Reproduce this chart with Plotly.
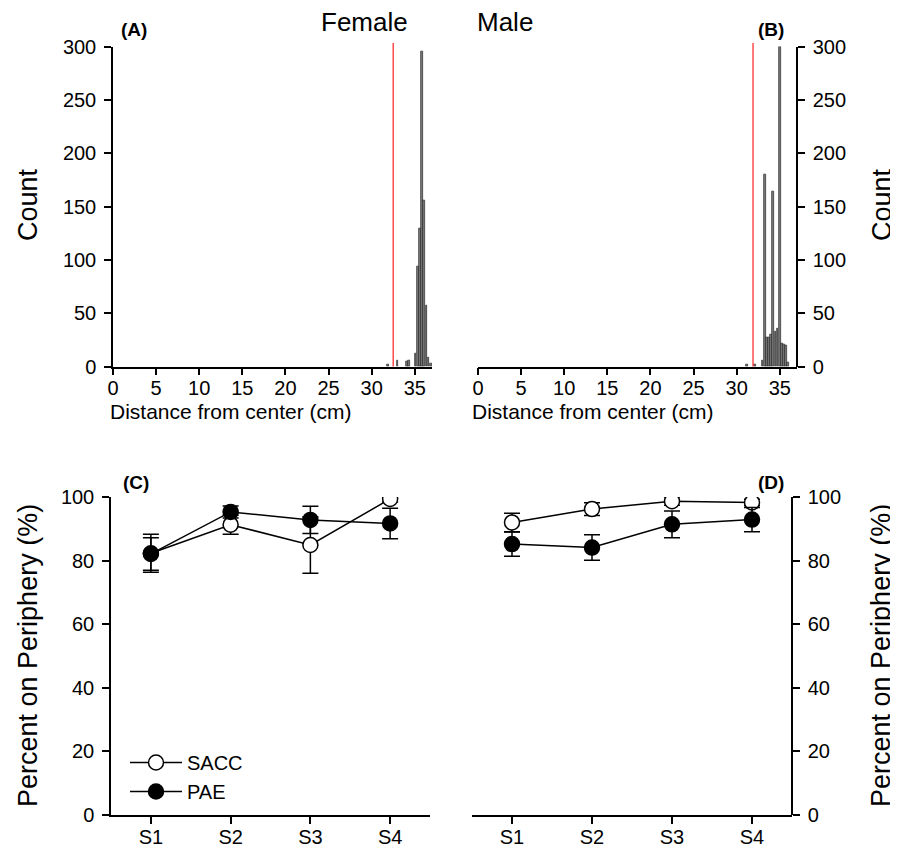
import plotly.graph_objects as go

# ---------------- data ----------------
female_bins = [31.9, 33.0, 34.1, 34.35, 35.1, 35.35, 35.6, 35.85, 36.1, 36.35, 36.6, 36.85]
female_counts = [2, 6, 5, 6, 12, 94, 129, 295, 156, 57, 8, 3]
female_cutoff = 32.5

male_bins = [31.2, 32.1, 33.0, 33.25, 33.5, 33.75, 34.0, 34.25, 34.5, 34.75, 35.0, 35.25, 35.5, 35.75, 35.95]
male_counts = [2, 2, 6, 180, 27, 27, 30, 164, 33, 36, 300, 22, 21, 20, 4]
male_cutoff = 31.9

sessions = ["S1", "S2", "S3", "S4"]
female_sacc = [82.3, 91.3, 84.9, 99.4]
female_sacc_err = [6.0, 3.0, 8.9, 1.0]
female_pae = [82.1, 95.3, 92.8, 91.7]
female_pae_err = [5.1, 1.9, 4.3, 4.8]
male_sacc = [92.0, 96.2, 98.7, 98.3]
male_sacc_err = [2.9, 2.0, 1.3, 1.0]
male_pae = [85.2, 84.1, 91.4, 92.9]
male_pae_err = [3.8, 4.0, 4.2, 3.8]

hist_xticks = [0, 5, 10, 15, 20, 25, 30, 35]
hist_yticks = [0, 50, 100, 150, 200, 250, 300]
pct_yticks = [0, 20, 40, 60, 80, 100]

# ---------------- layout helpers ----------------
# page body has an 8px margin, so the figure starts at (8, 8) of the window
OFF = 8
W, H = 898 - OFF, 856 - OFF
FONT = "Arial, Liberation Sans, Helvetica, sans-serif"


def px(x):
    return (x - OFF) / W


def py(y):
    return 1 - (y - OFF) / H


dom_A = [px(113), px(432)]
dom_B = [px(478), px(797)]
dom_C = [px(111), px(430)]
dom_D = [px(472), px(792)]
dom_top = [py(366.5), py(46.5)]
dom_bot = [py(815), py(497)]
HIST_XR = [0, 37]

fig = go.Figure()

bar_style = dict(marker=dict(color="#7a7a7a", line=dict(color="#2a2a2a", width=0.7)),
                 width=0.2, showlegend=False)
fig.add_trace(go.Bar(x=female_bins, y=female_counts, xaxis="x", yaxis="y", **bar_style))
fig.add_trace(go.Bar(x=male_bins, y=male_counts, xaxis="x2", yaxis="y2", **bar_style))

ERR = dict(type="data", visible=True, color="black", thickness=1.5, width=8)
LINE = dict(color="black", width=1.5)
open_m = dict(symbol="circle", size=15, color="white", line=dict(color="black", width=1.5))
fill_m = dict(symbol="circle", size=15, color="black", line=dict(color="black", width=1.5))

fig.add_trace(go.Scatter(x=sessions, y=female_sacc, error_y=dict(array=female_sacc_err, **ERR),
                         mode="lines+markers", line=LINE, marker=open_m, name="SACC",
                         xaxis="x3", yaxis="y3", showlegend=True))
fig.add_trace(go.Scatter(x=sessions, y=female_pae, error_y=dict(array=female_pae_err, **ERR),
                         mode="lines+markers", line=LINE, marker=fill_m, name="PAE",
                         xaxis="x3", yaxis="y3", showlegend=True))
fig.add_trace(go.Scatter(x=sessions, y=male_sacc, error_y=dict(array=male_sacc_err, **ERR),
                         mode="lines+markers", line=LINE, marker=open_m, name="SACC",
                         xaxis="x4", yaxis="y4", showlegend=False))
fig.add_trace(go.Scatter(x=sessions, y=male_pae, error_y=dict(array=male_pae_err, **ERR),
                         mode="lines+markers", line=LINE, marker=fill_m, name="PAE",
                         xaxis="x4", yaxis="y4", showlegend=False))

axis_common = dict(showline=True, linecolor="black", linewidth=1.5, ticks="outside",
                   ticklen=7, tickwidth=1.5, tickcolor="black", showgrid=False,
                   zeroline=False, automargin=False,
                   tickfont=dict(size=20, color="black", family=FONT))
xax = dict(ticklabelstandoff=-4, **axis_common)
yax = dict(ticklabelstandoff=4, **axis_common)

fig.update_layout(
    template="none",
    width=W, height=H, margin=dict(l=0, r=0, t=0, b=0, pad=0), autosize=False,
    paper_bgcolor="white", plot_bgcolor="white",
    font=dict(family=FONT, color="black"),
    bargap=0,
    xaxis=dict(domain=dom_A, anchor="y", range=HIST_XR, tickvals=hist_xticks, **xax),
    yaxis=dict(domain=dom_top, anchor="x", range=[0, 300], tickvals=hist_yticks, **yax),
    xaxis2=dict(domain=dom_B, anchor="y2", range=HIST_XR, tickvals=hist_xticks, **xax),
    yaxis2=dict(domain=dom_top, anchor="free", position=dom_B[1], side="right",
                range=[0, 300], tickvals=hist_yticks, **yax),
    xaxis3=dict(domain=dom_C, anchor="y3", type="category", range=[-0.5, 3.5], **xax),
    yaxis3=dict(domain=dom_bot, anchor="x3", range=[0, 100], tickvals=pct_yticks, **yax),
    xaxis4=dict(domain=dom_D, anchor="y4", type="category", range=[-0.5, 3.5], **xax),
    yaxis4=dict(domain=dom_bot, anchor="free", position=dom_D[1], side="right",
                range=[0, 100], tickvals=pct_yticks, **yax),
    legend=dict(x=px(125), y=py(743), xanchor="left", yanchor="top",
                font=dict(size=20, family=FONT, color="black"),
                bgcolor="rgba(0,0,0,0)", tracegroupgap=0, itemwidth=52),
)

# cutoff lines (red)
for cut, dom in [(female_cutoff, dom_A), (male_cutoff, dom_B)]:
    xp = dom[0] + (cut - HIST_XR[0]) / (HIST_XR[1] - HIST_XR[0]) * (dom[1] - dom[0])
    fig.add_shape(type="line", xref="paper", yref="paper", x0=xp, x1=xp,
                  y0=dom_top[0], y1=py(43), line=dict(color="#ff3030", width=1.3))

ann = []


def text(x, y, s, size, bold=False, angle=0, xanchor="center"):
    ann.append(dict(x=px(x), y=py(y), xref="paper", yref="paper", text=("<b>%s</b>" % s) if bold else s,
                    showarrow=False, textangle=angle, xanchor=xanchor, yanchor="middle",
                    font=dict(size=size, family=FONT, color="black")))


text(364, 22, "Female", 26)
text(505, 22, "Male", 26)
text(134, 30, "(A)", 19, bold=True)
text(771, 30, "(B)", 19, bold=True)
text(136, 482, "(C)", 19, bold=True)
text(771, 482, "(D)", 19, bold=True)
text(28, 205, "Count", 27, angle=-90)
text(882, 205, "Count", 27, angle=-90)
text(231, 412, "Distance from center (cm)", 21)
text(593, 412, "Distance from center (cm)", 21)
text(28, 656, "Percent on Periphery (%)", 27, angle=-90)
text(881, 656, "Percent on Periphery (%)", 27, angle=-90)
fig.update_layout(annotations=ann)

fig.write_html("out.html")
